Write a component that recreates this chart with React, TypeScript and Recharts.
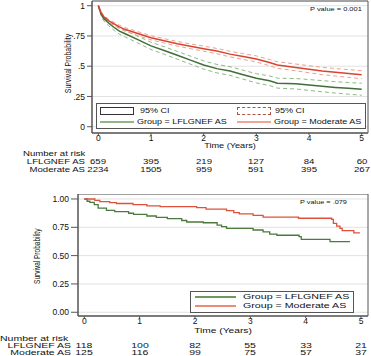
import React from "react";
import {
  LineChart,
  Line,
  XAxis,
  YAxis,
  CartesianGrid,
  ReferenceArea,
} from "recharts";

// ---- top panel (all patients) ----
const years = [0, 1, 2, 3, 4, 5];
const topTimes = [0, 0.05, 0.1, 0.2, 0.3, 0.4, 0.5, 0.75, 1, 1.25, 1.5, 1.75, 2, 2.25, 2.5, 2.75, 3, 3.25, 3.4, 3.75, 4, 4.25, 4.5, 4.75, 5];
const topLflgSurv = [1, 0.935, 0.895, 0.855, 0.82, 0.79, 0.77, 0.72, 0.668, 0.63, 0.59, 0.55, 0.51, 0.48, 0.46, 0.43, 0.4, 0.38, 0.36, 0.355, 0.345, 0.335, 0.325, 0.317, 0.31];
const topLflgHigh = [1, 0.95, 0.915, 0.877, 0.844, 0.815, 0.796, 0.748, 0.698, 0.661, 0.622, 0.583, 0.544, 0.515, 0.496, 0.467, 0.438, 0.42, 0.401, 0.398, 0.39, 0.381, 0.372, 0.365, 0.36];
const topLflgLow = [1, 0.92, 0.875, 0.833, 0.796, 0.765, 0.744, 0.692, 0.638, 0.599, 0.558, 0.517, 0.476, 0.445, 0.424, 0.393, 0.362, 0.34, 0.319, 0.312, 0.3, 0.289, 0.278, 0.269, 0.26];
const topModSurv = [1, 0.945, 0.91, 0.875, 0.85, 0.825, 0.805, 0.77, 0.735, 0.71, 0.685, 0.665, 0.645, 0.625, 0.6, 0.58, 0.56, 0.53, 0.51, 0.49, 0.475, 0.46, 0.45, 0.44, 0.43];
const topModHigh = [1, 0.953, 0.92, 0.887, 0.863, 0.839, 0.82, 0.786, 0.752, 0.728, 0.704, 0.685, 0.666, 0.647, 0.623, 0.604, 0.585, 0.556, 0.537, 0.518, 0.504, 0.49, 0.481, 0.472, 0.463];
const topModLow = [1, 0.937, 0.9, 0.863, 0.837, 0.811, 0.79, 0.754, 0.718, 0.692, 0.666, 0.645, 0.624, 0.603, 0.577, 0.556, 0.535, 0.504, 0.483, 0.462, 0.446, 0.43, 0.419, 0.408, 0.397];
const topRiskLflg = [659, 395, 219, 127, 84, 60];
const topRiskMod = [2234, 1505, 959, 591, 395, 267];

// ---- bottom panel (matched) ----
const botLflgTimes = [0, 0.05, 0.1, 0.18, 0.25, 0.4, 0.55, 0.8, 0.89, 1.13, 1.3, 1.5, 1.76, 1.85, 2.15, 2.4, 2.48, 2.57, 3.05, 3.23, 3.35, 3.48, 3.88, 3.92, 4.44, 4.8];
const botLflgSurv = [1, 0.98, 0.97, 0.95, 0.92, 0.9, 0.888, 0.874, 0.865, 0.85, 0.838, 0.826, 0.81, 0.797, 0.79, 0.77, 0.756, 0.74, 0.726, 0.71, 0.69, 0.68, 0.667, 0.644, 0.624, 0.624];
const botModTimes = [0, 0.19, 0.28, 0.46, 0.58, 0.88, 1.13, 1.37, 2.03, 2.2, 2.57, 2.7, 2.8, 3.05, 3.23, 3.87, 4.47, 4.5, 4.56, 4.62, 4.66, 4.87, 4.98];
const botModSurv = [1, 0.988, 0.976, 0.968, 0.96, 0.95, 0.94, 0.932, 0.924, 0.91, 0.897, 0.88, 0.868, 0.856, 0.84, 0.83, 0.82, 0.785, 0.76, 0.74, 0.72, 0.7, 0.7];
const botRiskLflg = [118, 100, 82, 55, 33, 21];
const botRiskMod = [125, 116, 99, 75, 57, 37];

const yTicks = [0, 0.25, 0.5, 0.75, 1];
const topYLabels = ["0", ".25", ".5", ".75", "1"];
const botYLabels = ["0.00", "0.25", "0.50", "0.75", "1.00"];
const FONT = "'Liberation Sans', Arial, Helvetica, sans-serif";
const GREEN = "#3f6f36";
const RED = "#d8442f";
const GREEN_CI = "#8fb886";
const RED_CI = "#eea093";
const FRAME = "#555";

const topX: [number, number] = [-0.12, 5.12];
const topY: [number, number] = [-0.052, 1.039];
const botX: [number, number] = [-0.114, 5.126];
const botY: [number, number] = [-0.033, 1.044];

const series = (times: number[], vals: number[]) => times.map((t, i) => ({ t, s: vals[i] }));
const topLflg = series(topTimes, topLflgSurv);
const topLflgHi = series(topTimes, topLflgHigh);
const topLflgLo = series(topTimes, topLflgLow);
const topMod = series(topTimes, topModSurv);
const topModHi = series(topTimes, topModHigh);
const topModLo = series(topTimes, topModLow);
const botLflg = series(botLflgTimes, botLflgSurv);
const botMod = series(botModTimes, botModSurv);

// the source figure is stretched sideways, so text is drawn narrow-font * scaleX
type Align = "left" | "right" | "center";
function T(props: {
  x: number;
  y: number;
  size: number;
  sx?: number;
  align?: Align;
  children: React.ReactNode;
}) {
  const { x, y, size, sx = 1, align = "left", children } = props;
  const w = 120;
  const left = align === "left" ? x : align === "right" ? x - w : x - w / 2;
  return (
    <div
      style={{
        position: "absolute",
        left,
        top: y - size / 2,
        width: w,
        textAlign: align,
        fontFamily: FONT,
        fontSize: size,
        lineHeight: 1,
        color: "#111",
        whiteSpace: "nowrap",
        pointerEvents: "none",
        transform: `scaleX(${sx})`,
        transformOrigin: `${align === "center" ? "center" : align} center`,
      }}
    >
      {children}
    </div>
  );
}

function VLabel(props: { x: number; y: number; size: number; sy: number; children: React.ReactNode }) {
  const { x, y, size, sy, children } = props;
  return (
    <div
      style={{
        position: "absolute",
        left: x - 40,
        top: y - size / 2,
        width: 80,
        textAlign: "center",
        fontFamily: FONT,
        fontSize: size,
        lineHeight: 1,
        color: "#111",
        whiteSpace: "nowrap",
        transform: `rotate(-90deg) scaleY(${sy})`,
      }}
    >
      {children}
    </div>
  );
}

// axis tick label, looked up from the tick value
const makeTick =
  (size: number, labels: string[] | null, horizontal: boolean) =>
  (p: any) => {
    const v = Number(p.payload.value);
    const idx = yTicks.findIndex((k) => Math.abs(k - v) < 1e-6);
    const label = labels && idx >= 0 ? labels[idx] : String(v);
    return (
      <text
        x={p.x}
        y={p.y}
        dy={horizontal ? "0.75em" : "0.36em"}
        textAnchor={horizontal ? "middle" : "end"}
        fontSize={size}
        fontFamily={FONT}
        fill="#111"
      >
        {label}
      </text>
    );
  };

function RiskTable(props: {
  top: number;
  titleLeft: number;
  labelRight: number;
  x0: number;
  step: number;
  rowGap: number;
  size: number;
  sx: number;
  rows: { label: string; values: number[] }[];
}) {
  const { top, titleLeft, labelRight, x0, step, rowGap, size, sx, rows } = props;
  return (
    <>
      <T x={titleLeft} y={top} size={size} sx={sx}>
        Number at risk
      </T>
      {rows.map((r, ri) => (
        <React.Fragment key={r.label}>
          <T x={labelRight} y={top + rowGap * (ri + 1)} size={size} sx={sx} align="right">
            {r.label}
          </T>
          {r.values.map((v, i) => (
            <T key={i} x={x0 + step * i} y={top + rowGap * (ri + 1)} size={size} sx={sx} align="center">
              {v}
            </T>
          ))}
        </React.Fragment>
      ))}
    </>
  );
}

function TopPanel() {
  return (
    <>
      <div style={{ position: "absolute", left: 0, top: 0 }}>
        <LineChart width={371} height={150} margin={{ top: 1, right: 3, bottom: 0, left: 0 }}>
          <CartesianGrid vertical={false} stroke="#e2e2e2" />
          <XAxis
            dataKey="t"
            type="number"
            domain={topX}
            ticks={years}
            interval={0}
            height={17}
            tickSize={2}
            tickMargin={0}
            stroke={FRAME}
            allowDuplicatedCategory={false}
            tick={makeTick(8.5, null, true)}
          />
          <YAxis
            type="number"
            domain={topY}
            ticks={yTicks}
            interval={0}
            width={92}
            tickSize={5}
            tickMargin={2}
            stroke={FRAME}
            allowDataOverflow
            tick={makeTick(8.5, topYLabels, false)}
          />
          <ReferenceArea x1={topX[0]} x2={topX[1]} y1={topY[0]} y2={topY[1]} fill="none" stroke={FRAME} strokeWidth={1} />
          <Line data={topLflgHi} dataKey="s" stroke={GREEN_CI} strokeWidth={1} strokeDasharray="4 3" dot={false} isAnimationActive={false} />
          <Line data={topLflgLo} dataKey="s" stroke={GREEN_CI} strokeWidth={1} strokeDasharray="4 3" dot={false} isAnimationActive={false} />
          <Line data={topModHi} dataKey="s" stroke={RED_CI} strokeWidth={1} strokeDasharray="4 3" dot={false} isAnimationActive={false} />
          <Line data={topModLo} dataKey="s" stroke={RED_CI} strokeWidth={1} strokeDasharray="4 3" dot={false} isAnimationActive={false} />
          <Line data={topLflg} dataKey="s" stroke={GREEN} strokeWidth={1.5} dot={false} isAnimationActive={false} />
          <Line data={topMod} dataKey="s" stroke={RED} strokeWidth={1.5} dot={false} isAnimationActive={false} />
        </LineChart>
      </div>

      <T x={310} y={9} size={6} sx={1.24}>P value = 0.001</T>

      {/* legend */}
      <div
        style={{
          position: "absolute",
          left: 96,
          top: 103,
          width: 268,
          height: 24,
          background: "#fff",
          border: `1px solid ${FRAME}`,
        }}
      />
      <div style={{ position: "absolute", left: 100, top: 107, width: 32, height: 6, border: "1px solid #333" }} />
      <T x={140} y={110.5} size={7.5} sx={1.2}>95% CI</T>
      <div style={{ position: "absolute", left: 237, top: 107, width: 32, height: 6, border: "1px dashed #b0503f" }} />
      <T x={275} y={110.5} size={7.5} sx={1.2}>95% CI</T>
      <div style={{ position: "absolute", left: 100, top: 121, width: 34, height: 2, background: "#93b487" }} />
      <T x={137} y={122} size={7.5} sx={1.2}>Group = LFLGNEF AS</T>
      <div style={{ position: "absolute", left: 237, top: 121, width: 34, height: 2, background: "#f0a496" }} />
      <T x={274} y={122} size={7.5} sx={1.2}>Group = Moderate AS</T>

      <VLabel x={68} y={63} size={7} sy={1.3}>Survival Probability</VLabel>
      <T x={230} y={146} size={7.5} sx={1.22} align="center">Time (Years)</T>

      <RiskTable
        top={154}
        titleLeft={23}
        labelRight={85}
        x0={98.3}
        step={52.7}
        rowGap={8}
        size={7.5}
        sx={1.28}
        rows={[
          { label: "LFLGNEF AS", values: topRiskLflg },
          { label: "Moderate AS", values: topRiskMod },
        ]}
      />
    </>
  );
}

function BottomPanel() {
  return (
    <>
      <div style={{ position: "absolute", left: 0, top: 194 }}>
        <LineChart width={371} height={139} margin={{ top: 0, right: 3, bottom: 0, left: 0 }}>
          <CartesianGrid vertical={false} stroke="#e2e2e2" />
          <XAxis
            dataKey="t"
            type="number"
            domain={botX}
            ticks={years}
            interval={0}
            height={17}
            tickSize={2}
            tickMargin={0}
            stroke={FRAME}
            allowDuplicatedCategory={false}
            tick={makeTick(8.5, null, true)}
          />
          <YAxis
            type="number"
            domain={botY}
            ticks={yTicks}
            interval={0}
            width={78}
            tickSize={7}
            tickMargin={2}
            stroke={FRAME}
            allowDataOverflow
            tick={makeTick(8.5, botYLabels, false)}
          />
          <ReferenceArea x1={botX[0]} x2={botX[1]} y1={botY[0]} y2={botY[1]} fill="none" stroke={FRAME} strokeWidth={1} />
          <Line data={botLflg} dataKey="s" type="stepAfter" stroke="#4a7a3e" strokeWidth={1.3} dot={false} isAnimationActive={false} />
          <Line data={botMod} dataKey="s" type="stepAfter" stroke="#e0513b" strokeWidth={1.3} dot={false} isAnimationActive={false} />
        </LineChart>
      </div>

      <T x={300} y={202} size={6} sx={1.22}>P value = .079</T>

      <div
        style={{
          position: "absolute",
          left: 190,
          top: 291,
          width: 162,
          height: 20,
          background: "#fff",
          border: `1px solid ${FRAME}`,
        }}
      />
      <div style={{ position: "absolute", left: 195, top: 296, width: 41, height: 1.5, background: "#6e9a62" }} />
      <T x={243} y={296.7} size={7.5} sx={1.42}>Group = LFLGNEF AS</T>
      <div style={{ position: "absolute", left: 195, top: 305, width: 41, height: 1.5, background: "#ee8a78" }} />
      <T x={243} y={305.7} size={7.5} sx={1.42}>Group = Moderate AS</T>

      <VLabel x={38} y={256} size={6.5} sy={1.4}>Survival Probability</VLabel>
      <T x={223} y={331} size={7.2} sx={1.42} align="center">Time (Years)</T>

      <RiskTable
        top={338.5}
        titleLeft={0}
        labelRight={71}
        x0={84.3}
        step={55.3}
        rowGap={7.2}
        size={7}
        sx={1.5}
        rows={[
          { label: "LFLGNEF AS", values: botRiskLflg },
          { label: "Moderate AS", values: botRiskMod },
        ]}
      />
    </>
  );
}

export default function App() {
  return (
    <div
      style={{
        position: "absolute",
        left: 0,
        top: 0,
        width: 371,
        height: 356,
        background: "#fff",
        overflow: "hidden",
      }}
    >
      <TopPanel />
      <BottomPanel />
    </div>
  );
}
